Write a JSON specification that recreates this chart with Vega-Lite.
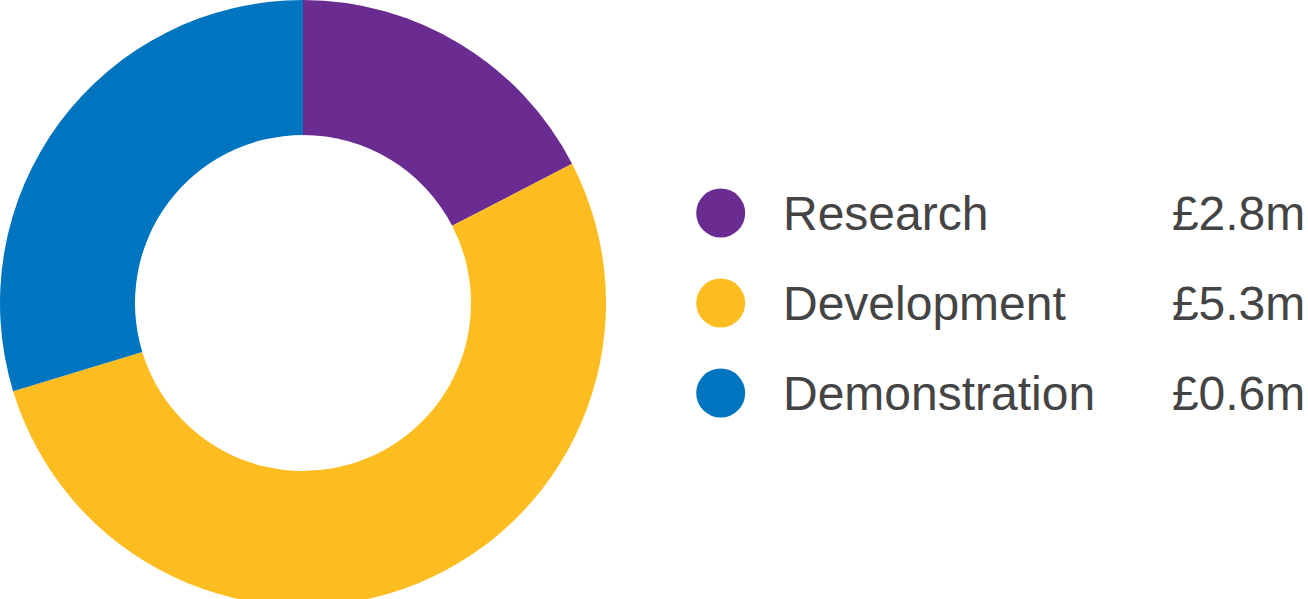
{
  "$schema": "https://vega.github.io/schema/vega-lite/v6.json",
  "padding": 0,
  "background": "white",
  "bounds": "flush",
  "center": true,
  "data": {
    "values": [
      {"category": "Research", "rank": 1, "share": 17.4, "amount": "£2.8m"},
      {"category": "Development", "rank": 2, "share": 52.9, "amount": "£5.3m"},
      {"category": "Demonstration", "rank": 3, "share": 29.7, "amount": "£0.6m"}
    ]
  },
  "spacing": 20,
  "hconcat": [
    {
      "width": 606,
      "height": 606,
      "mark": {"type": "arc", "outerRadius": 303, "innerRadius": 168, "stroke": null},
      "encoding": {
        "theta": {"field": "share", "type": "quantitative", "stack": true},
        "order": {"field": "rank", "type": "quantitative"},
        "color": {
          "field": "category",
          "type": "nominal",
          "scale": {"domain": ["Research", "Development", "Demonstration"], "range": ["#6B2C91", "#FDBD21", "#0075BF"]},
          "legend": null
        }
      }
    },
    {
      "width": 94.7,
      "height": 360,
      "mark": {"type": "point", "filled": true, "shape": "circle", "size": 2401, "opacity": 1, "strokeWidth": 0},
      "encoding": {
        "x": {"value": "width"},
        "y": {"field": "category", "type": "nominal", "sort": ["Research", "Development", "Demonstration"], "scale": {"type": "point", "padding": 1}, "axis": null},
        "color": {
          "field": "category",
          "type": "nominal",
          "scale": {"domain": ["Research", "Development", "Demonstration"], "range": ["#6B2C91", "#FDBD21", "#0075BF"]},
          "legend": null
        }
      }
    },
    {
      "width": 84,
      "height": 360,
      "mark": {"type": "text", "align": "left", "baseline": "middle", "dy": 3, "font": "Liberation Sans", "fontSize": 48, "color": "#444444"},
      "encoding": {
        "y": {"field": "category", "type": "nominal", "sort": ["Research", "Development", "Demonstration"], "scale": {"type": "point", "padding": 1}, "axis": null},
        "text": {"field": "category", "type": "nominal"}
      }
    },
    {
      "width": 460.3,
      "height": 360,
      "mark": {"type": "text", "align": "right", "baseline": "middle", "dy": 3, "font": "Liberation Sans", "fontSize": 48, "color": "#444444"},
      "encoding": {
        "x": {"value": "width"},
        "y": {"field": "category", "type": "nominal", "sort": ["Research", "Development", "Demonstration"], "scale": {"type": "point", "padding": 1}, "axis": null},
        "text": {"field": "amount", "type": "nominal"}
      }
    }
  ],
  "config": {"view": {"stroke": null}}
}
